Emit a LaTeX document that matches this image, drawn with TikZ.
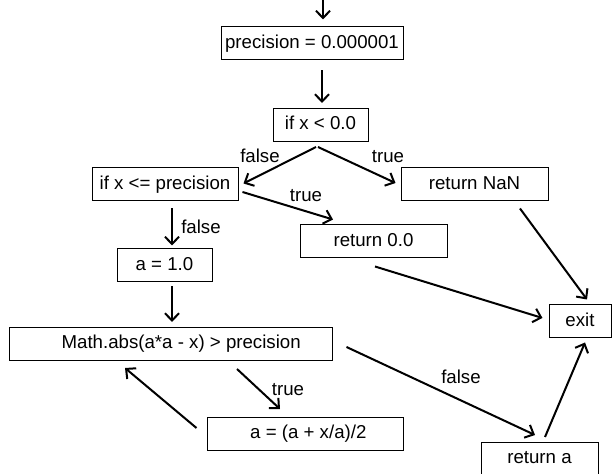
\documentclass[tikz,border=0pt]{standalone}
\usepackage{fontspec}
\setmainfont{Liberation Sans}
\usepackage{tikz}
\usetikzlibrary{arrows.meta, calc}

\begin{document}
\begin{tikzpicture}[x=0.75pt, y=-0.75pt,
		>={Straight Barb[length=5.5pt,width=10.5pt]},
		flowbox/.style={draw, line width=0.75pt, minimum height=24.75pt, inner sep=0pt,
			text height=10pt, text depth=2.5pt, font=\fontsize{14}{17}\selectfont},
		lbl/.style={inner sep=0pt, text height=10pt, text depth=0pt, font=\fontsize{14}{17}\selectfont},
		flow/.style={->, line width=1.5pt}]
		% sqrt by newton iteration
		\useasboundingbox (0,0) rectangle (612,474);
		\coordinate (entry) at (323,-2);
		\node[flowbox, minimum width=136.5pt] (prec) at (312,43.5) {precision = 0.000001};
		\node[flowbox, minimum width=71.25pt] (ifneg) at (320.5,125) {if x < 0.0};
		\node[flowbox, minimum width=109.5pt] (ifprec) at (165,184.5) {if x <= precision};
		\node[flowbox, minimum width=110.25pt] (nan) at (474.5,184.5) {return NaN};
		\node[flowbox, minimum width=110.25pt] (ret0) at (373.5,241.5) {return 0.0};
		\node[flowbox, minimum width=71.25pt] (aone) at (164.5,265.5) {a = 1.0};
		\node[flowbox, minimum width=242.25pt] (loop) at (170.5,344) {\hspace{16pt}Math.abs(a*a - x) > precision};
		\node[flowbox, minimum width=147pt] (upd) at (305,434) {\hspace{5pt}a = (a + x/a)/2};
		\node[flowbox, minimum width=87.75pt] (reta) at (539.5,459) {return a};
		\node[flowbox, minimum width=46.5pt] (exit) at (580,321.5) {exit};

		% branch labels
		\node[lbl] (lfalse1) at (260,156) {false};
		\node[lbl] (ltrue1) at (388,156) {true};
		\node[lbl] (ltrue2) at (306,195) {true};
		\node[lbl] (lfalse2) at (201,227) {false};
		\node[lbl] (ltrue3) at (288,389) {true};
		\node[lbl] (lfalse3) at (461,377) {false};

		\draw[flow] (entry) -- ($(prec.north)+(11,-7)$);
		\draw[flow] ($(prec.south)+(10,10)$) -- ($(ifneg.north)+(1.5,-5)$);
		\draw[flow] ($(ifneg.south)+(-4.5,5)$) -- ($(ifprec.east)+(5,-1)$);
		\draw[flow] ($(ifneg.south)+(-2.5,5)$) -- ($(nan.west)+(-5,-1.5)$);
		\draw[flow] ($(ifprec.east)+(4,7.5)$) -- ($(ret0.north)+(-40.5,-5)$);
		\draw[flow] ($(ifprec.south)+(7,7)$) -- ($(aone.north)+(7.5,-3)$);
		\draw[flow] ($(aone.south)+(7.5,4)$) -- ($(loop.north)+(1.5,-5)$);
		\draw[flow] ($(nan.south)+(45.5,7)$) -- ($(exit.north)+(7,-5)$);
		\draw[flow] ($(ret0.south)+(1.5,8)$) -- ($(exit.west)+(-6,-3.5)$);
		\draw[flow] ($(loop.south)+(66.5,8)$) -- ($(upd.north)+(-25,-8)$);
		\draw[flow] ($(upd.west)+(-10,-6)$) -- ($(loop.south)+(-45.5,7)$);
		\draw[flow] ($(loop.east)+(14,3)$) -- ($(reta.north)+(-4.5,-7)$);
		\draw[flow] ($(reta.north)+(5.5,-5)$) -- ($(exit.south)+(5,4)$);
	\end{tikzpicture}
\end{document}
